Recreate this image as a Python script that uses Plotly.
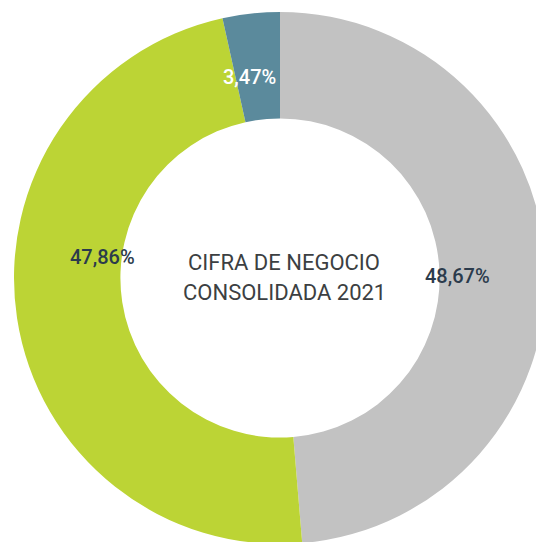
import plotly.graph_objects as go

segments = ["Gris", "Verde", "Azul"]
shares = [48.67, 47.86, 3.47]
share_labels = ["48,67%", "47,86%", "3,47%"]
colors = ["#c2c2c2", "#bcd435", "#5b8a9c"]
label_colors = ["#2b3b4c", "#2b3b4c", "#ffffff"]
center_lines = ["CIFRA DE NEGOCIO", "CONSOLIDADA 2021"]

W, H = 544, 542
OFF = 8  # page body margin

fig = go.Figure(go.Pie(
    labels=segments,
    values=shares,
    sort=False,
    direction="clockwise",
    rotation=0,
    hole=0.6,
    textinfo="none",
    marker=dict(colors=colors, line=dict(width=0)),
    domain=dict(x=[6 / W, 538 / W], y=[6 / H, 538 / H]),
    showlegend=False,
))


def px2paper(px, py):
    return (px - OFF) / W, 1 - (py - OFF) / H


# label spots in screen pixels (x, y from top)
label_pos = [(492, 276), (68, 257), (249, 63)]
for txt, col, (px, py) in zip(share_labels, label_colors, label_pos):
    x, y = px2paper(px, py)
    fig.add_annotation(x=x, y=y, xref="paper", yref="paper",
                       text=txt, showarrow=False,
                       font=dict(size=20, color=col, family="Roboto", weight=500))

for i, line in enumerate(center_lines):
    x, y = px2paper(284, 262 + 30 * i)
    fig.add_annotation(x=x, y=y, xref="paper", yref="paper",
                       text=line, showarrow=False,
                       font=dict(size=22, color="#3c3f42", family="Roboto"))

fig.update_layout(width=W, height=H, margin=dict(l=0, r=0, t=0, b=0),
                  paper_bgcolor="white", plot_bgcolor="white")

fig.write_html("out.html")
